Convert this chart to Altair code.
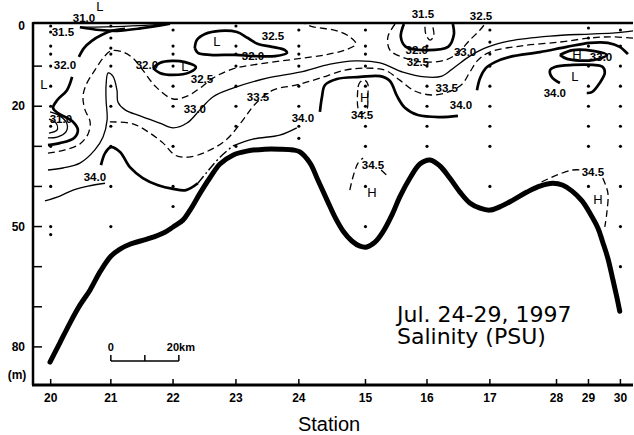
import altair as alt
import pandas as pd

# ---------------- data ----------------
station_names = ["20", "21", "22", "23", "24", "15", "16", "17", "28", "29", "30"]
station_km = [0.0, 17.7, 36.0, 54.5, 73.0, 92.6, 110.7, 129.2, 148.8, 158.2, 167.6]

# sampling depths (m) at each station
depths_20 = [0, 1.5, 5, 7, 10, 15, 20, 25, 30, 40, 50, 52]
depths_21 = [0, 3, 5.5, 7, 10, 15, 20, 25, 30, 40, 50]
depths_22 = [1, 5, 7, 10, 15, 20, 30, 40, 45]
depths_23 = [0, 5, 7, 10, 15, 20, 25, 30]
depths_24 = [1, 5, 7, 10, 15, 20, 25, 28]
depths_15 = [1, 5, 7, 10, 15, 20, 25, 30, 40, 50]
depths_16 = [5, 6, 10, 15, 20, 25, 30]
depths_17 = [1, 4, 7, 10, 15, 20, 25, 30, 40]
depths_29 = [0.5, 3, 5, 10, 15, 20, 25, 30, 40]
depths_30 = [1, 5, 10, 15, 20, 25, 30, 40, 50, 60]

depth_ticks = [10, 20, 30, 40, 50, 60, 70, 80]
depth_labels = [0, 20, 50, 80]

# bottom topography (km, m)
bottom_km = [-0.2, 2.7, 5.7, 8.6, 11.6, 14.5, 17.7, 20.4, 23.3, 29.2, 33.6, 36.0, 38.9, 41.0, 44.0,
             46.8, 49.8, 53.6, 57.7, 63.0, 67.4, 71.3, 73.3, 76.3, 78.6, 81.3, 83.6, 86.0, 88.6,
             91.0, 93.0, 95.4, 97.7, 100.4, 102.7, 105.7, 108.6, 111.6, 114.5, 117.4, 120.4,
             123.3, 126.3, 129.2, 132.1, 136.0, 140.1, 143.9, 147.7, 150.7, 153.3, 156.3, 158.6,
             161.0, 162.4, 163.9, 165.4, 166.6, 167.4]
bottom_m = [83.8, 79.0, 74.0, 69.6, 65.8, 61.3, 57.4, 55.6, 54.4, 52.9, 51.4, 50.1, 48.4, 45.9, 41.6,
            37.9, 34.4, 32.2, 31.2, 30.7, 30.7, 30.9, 31.4, 34.2, 38.4, 43.4, 47.6, 51.1, 53.6,
            54.9, 55.1, 53.9, 51.4, 47.1, 42.6, 37.9, 34.4, 33.4, 34.9, 37.9, 41.4,
            44.1, 45.4, 45.9, 45.1, 43.4, 41.4, 39.9, 39.2, 39.7, 41.1, 43.6, 46.6,
            50.4, 53.9, 57.9, 63.3, 67.8, 71.1]

# isohalines (km, m)
c310_sliver = [(8.6, 0.3), (14.5, 1.0), (19.5, 1.2), (26.3, 0.6), (35.1, -0.6)]
c310_sliver_top = [(8.6, 0.3), (16.0, 0.2), (26.0, -0.1), (35.1, -0.6)]
c315_left = [(8.3, 7.7), (9.8, 5.5), (12.1, 3.7), (15.1, 2.2), (18.0, 1.2), (21.9, 0.7)]
c320_st20 = [(6.3, 12.7), (4.8, 16.0), (1.9, 18.5), (0.7, 20.4), (2.1, 21.7), (6.3, 23.7),
             (8.0, 25.9), (6.9, 27.9), (2.7, 29.2), (-0.8, 29.7)]
c315_st20 = [(-0.2, 21.4), (2.7, 22.4), (4.8, 24.4), (4.5, 26.4), (1.9, 27.7), (-0.8, 27.9)]
c310_st20 = [(-0.5, 23.2), (1.6, 24.2), (1.9, 25.9), (-0.5, 26.7)]
c320_st22 = [(30.1, 10.5), (32.1, 9.2), (35.7, 8.7), (39.5, 9.0), (42.7, 10.2), (41.0, 11.5),
             (36.0, 12.2), (32.1, 11.7), (30.1, 10.5)]
c320_st23 = [(42.4, 5.5), (43.0, 3.5), (45.4, 2.0), (49.8, 1.2), (54.8, 1.5), (58.0, 3.0), (61.0, 4.5),
             (65.1, 5.2), (68.9, 6.0), (69.5, 6.7), (66.0, 7.5), (60.1, 7.5), (54.2, 7.2),
             (46.9, 7.2), (43.3, 6.7), (42.4, 5.5)]
c340_st21 = [(14.8, 34.7), (16.0, 31.7), (17.7, 30.2), (20.4, 31.4), (23.3, 35.2), (27.1, 37.9),
             (31.6, 39.7), (36.0, 40.6), (39.8, 40.9), (43.3, 39.2)]
c340_slope = [(43.3, 39.2), (46.0, 36.4), (49.8, 32.7), (53.6, 29.9)]
c340_st24 = [(53.6, 29.9), (59.5, 28.2), (67.4, 27.2), (72.4, 25.4)]
c340_left = [(-1.7, 43.6), (2.7, 42.4), (6.6, 40.9), (11.0, 39.9), (16.0, 39.2)]
c340_st15 = [(79.2, 21.4), (79.8, 17.7), (80.7, 14.7), (84.2, 13.2), (91.0, 12.7), (96.9, 12.5),
             (99.8, 13.7), (101.9, 17.5), (104.2, 20.4), (108.0, 22.2), (114.5, 22.7), (119.8, 22.4)]
c320_st16 = [(103.9, -0.5), (103.0, 2.7), (104.5, 5.2), (110.1, 6.0), (116.9, 5.2), (118.6, 2.2),
             (118.3, -0.5)]
c315_st16 = [(110.1, 0.2), (110.4, 2.2), (111.6, 3.5), (112.7, 2.5), (112.4, 0.2)]
c325_st16 = [(101.3, -0.5), (99.2, 2.7), (99.8, 6.0), (104.2, 8.0), (110.1, 9.0), (116.0, 8.5),
             (119.8, 6.7), (123.3, 3.5), (126.3, 1.0), (127.7, -0.5)]
c325_long = [(-0.8, 31.7), (4.2, 30.9), (8.6, 29.4), (11.0, 26.9), (11.6, 23.9), (10.1, 20.9),
             (9.5, 17.7), (10.4, 14.7), (13.0, 11.0), (15.7, 7.7), (17.7, 6.2), (21.3, 6.5),
             (24.2, 8.0), (27.1, 11.0), (31.0, 15.2), (36.0, 18.2), (40.1, 17.5), (43.9, 15.5),
             (47.7, 13.0), (53.6, 10.7), (63.6, 9.2), (72.4, 8.2), (80.7, 7.2), (86.6, 6.0),
             (89.8, 4.5), (88.0, 2.7), (84.2, 1.2), (77.2, 0.2), (74.8, -0.5)]
c330_long = [(-0.8, 35.9), (3.6, 35.4), (8.6, 34.2), (13.0, 30.9), (15.4, 27.7), (16.6, 23.4),
             (16.3, 18.5), (16.3, 14.7), (16.9, 11.7), (18.3, 12.5), (19.5, 16.0), (19.8, 19.0),
             (21.9, 20.9), (26.3, 22.4), (32.1, 24.2), (36.0, 25.4), (40.1, 24.2), (43.9, 20.9),
             (47.7, 17.7), (53.6, 15.5), (63.6, 13.0), (73.3, 11.5), (82.2, 9.5), (89.5, 8.7),
             (96.9, 9.2), (103.6, 11.5), (110.1, 12.7), (115.1, 12.5), (118.9, 10.2), (123.3, 7.5),
             (127.7, 5.5), (135.1, 3.7), (146.9, 2.5), (158.6, 2.0), (166.0, 1.7), (171.3, 1.2)]
c335_long = [(17.4, 23.9), (24.2, 24.4), (29.2, 26.7), (33.1, 29.2), (36.6, 32.2), (40.4, 32.7),
             (45.7, 31.4), (51.6, 28.4), (56.6, 23.4), (60.1, 19.5), (65.4, 16.0), (72.4, 14.7),
             (79.2, 13.0), (86.6, 11.0), (92.4, 10.5), (98.3, 11.0), (102.7, 13.5), (107.1, 16.2),
             (112.1, 17.2), (116.8, 16.5), (121.0, 14.5), (123.3, 11.5), (125.7, 8.5), (129.2, 6.5),
             (138.1, 5.0), (149.8, 4.0), (158.6, 3.0), (164.5, 2.7), (171.3, 3.0)]
c340_right = [(125.4, 16.0), (126.3, 13.0), (128.0, 10.5), (130.7, 9.0), (135.1, 7.7), (143.9, 6.5),
              (151.8, 5.2), (158.6, 4.2), (163.9, 4.2), (167.4, 5.2), (169.8, 7.0)]
c340_st29 = [(149.8, 14.2), (147.4, 12.7), (146.9, 11.0), (148.3, 10.2), (153.6, 9.7), (159.5, 9.7),
             (162.4, 10.2), (163.0, 11.7), (161.5, 14.2), (159.2, 16.5), (157.7, 16.7)]
c330_st29 = [(149.8, 7.2), (153.6, 6.0), (159.5, 6.2), (163.6, 7.2), (159.5, 8.5), (151.9, 8.2),
             (149.8, 7.2)]
c345_st15a = [(90.4, 15.2), (91.0, 14.0), (92.4, 13.5), (93.3, 14.5), (93.3, 17.2), (93.0, 20.9),
              (91.6, 21.9), (90.4, 20.4), (90.4, 15.2)]
c345_st15b = [(88.0, 40.9), (88.9, 37.7), (90.4, 34.2), (91.9, 32.9)]
c345_st15c = [(97.2, 35.9), (99.5, 37.7)]
c345_st29a = [(144.4, 38.9), (148.8, 37.2), (153.6, 35.9), (156.3, 35.9)]
c345_st29b = [(162.4, 37.9), (163.9, 41.6), (163.6, 46.6), (163.0, 50.1)]

contours = [
    ("thick", c310_sliver), ("thin", c310_sliver_top), ("thick", c315_left), ("thick", c320_st20),
    ("thin", c315_st20), ("thin", c310_st20), ("thick", c320_st22), ("thick", c320_st23),
    ("thick", c340_st21), ("dashdot", c340_slope), ("thin", c340_st24), ("thin", c340_left),
    ("thick", c340_st15), ("thick", c320_st16), ("dash", c315_st16), ("dash", c325_st16),
    ("dash", c325_long), ("thin", c330_long), ("dash", c335_long), ("thick", c340_right),
    ("thick", c340_st29), ("thick", c330_st29), ("dash", c345_st15a), ("dash", c345_st15b),
    ("dash", c345_st15c), ("dash", c345_st29a), ("dash", c345_st29b),
]

# contour labels (text, km, m)
label_text = ["31.0", "31.5", "32.0", "31.0", "32.0", "32.5", "32.0", "32.5", "33.0", "33.5",
              "34.0", "34.0", "34.5", "31.5", "32.5", "32.0", "32.5", "33.0", "33.5", "34.0",
              "33.0", "34.0", "34.5", "34.5"]
label_km = [9.8, 3.6, 4.2, 3.0, 28.3, 65.4, 59.5, 44.5, 42.4, 61.0,
            74.2, 13.0, 91.6, 109.5, 126.6, 107.7, 108.0, 121.9, 116.5, 120.7,
            161.9, 148.3, 94.8, 159.5]
label_m = [-1.7, 1.7, 10.0, 23.4, 10.0, 2.7, 7.7, 13.5, 20.9, 18.0,
           23.2, 37.9, 22.4, -2.7, -2.2, 6.2, 9.2, 6.7, 15.7, 20.0,
           8.0, 17.0, 34.9, 36.7]

# high / low markers (text, km, m)
hl_text = ["L", "L", "L", "L", "H", "H", "L", "H", "H"]
hl_km = [14.5, -2.0, 39.5, 48.9, 92.4, 154.8, 154.2, 94.5, 161.0]
hl_m = [-4.7, 14.7, 10.2, 4.0, 18.0, 7.2, 12.7, 41.6, 43.4]

# 20 km scale bar
scale_ticks_km = [17.7, 27.7, 37.7]
scale_bar_m = 83.5
scale_tick_top_m = 82.0
scale_text = ["0", "20km"]
scale_text_km = [17.7, 38.3]
scale_text_m = [80.3, 80.3]

title_lines = ["Jul. 24-29, 1997", "Salinity (PSU)"]

# ---------------- tables ----------------
dot_lists = [depths_20, depths_21, depths_22, depths_23, depths_24, depths_15, depths_16,
             depths_17, None, depths_29, depths_30]
dots = pd.DataFrame([{"km": k, "m": d} for k, dl in zip(station_km, dot_lists) if dl
                     for d in dl])
bottom = pd.DataFrame({"km": bottom_km, "m": bottom_m, "o": range(len(bottom_km))})
rows = []
for i, (style, pts) in enumerate(contours):
    for j, (k, d) in enumerate(pts):
        rows.append({"id": i, "o": j, "km": k, "m": d, "style": style})
cont = pd.DataFrame(rows)
labels = pd.DataFrame({"t": label_text, "km": label_km, "m": label_m})
hl = pd.DataFrame({"hl": hl_text, "km": hl_km, "m": hl_m})
stations = pd.DataFrame({"name": station_names, "km": station_km})
ytick = pd.DataFrame({"m": depth_ticks})
ylab = pd.DataFrame({"m": depth_labels, "t": [str(v) for v in depth_labels]})
sbar_pts = pd.DataFrame({"km": scale_ticks_km, "m": scale_bar_m, "m2": scale_tick_top_m})
sbar_line = pd.DataFrame({"km": [scale_ticks_km[0]], "km2": [scale_ticks_km[-1]], "m": [scale_bar_m]})
stext = pd.DataFrame({"t": scale_text, "km": scale_text_km, "m": scale_text_m})
one = pd.DataFrame({"k": [0]})

W, H = 600, 362
XS = alt.Scale(domain=[-5.2, 171.3], nice=False, zero=False)
YS = alt.Scale(domain=[-0.75, 89.5], reverse=True, nice=False, zero=False)
X = alt.X("km:Q", scale=XS, axis=None)
Y = alt.Y("m:Q", scale=YS, axis=None)
FONT = "Liberation Sans"

def clines(style, **kw):
    return (alt.Chart(cont).transform_filter(alt.datum.style == style)
            .mark_line(color="black", interpolate="catmull-rom", **kw)
            .encode(x=X, y=Y, detail="id:N", order="o:Q"))

def note(text, x, y, **kw):
    return (alt.Chart(one).mark_text(text=text, fill="black", color="black", **kw)
            .encode(x=alt.value(x), y=alt.value(y)))

layers = [
    clines("thick", strokeWidth=2.7),
    clines("thin", strokeWidth=1.3),
    clines("dash", strokeWidth=1.3, strokeDash=[7, 4]),
    clines("dashdot", strokeWidth=1.4, strokeDash=[9, 3, 2, 3]),
    alt.Chart(bottom).mark_line(color="black", strokeWidth=5, interpolate="catmull-rom",
                                strokeCap="round").encode(x=X, y=Y, order="o:Q"),
    alt.Chart(dots).mark_circle(color="black", fill="black", size=10, opacity=1).encode(x=X, y=Y),
    alt.Chart(labels).mark_text(font=FONT, fontSize=11.5, fontWeight="bold", fill="black")
        .encode(x=X, y=Y, text="t:N"),
    alt.Chart(hl).mark_text(font=FONT, fontSize=13, fill="black")
        .encode(x=X, y=Y, text="hl:N"),
    # frame
    alt.Chart(ytick).mark_rule(color="black", strokeWidth=1.5)
        .encode(y=Y, x=alt.value(0), x2=alt.value(9)),
    alt.Chart(stations).mark_rule(color="black", strokeWidth=1.5)
        .encode(x=X, y=alt.value(H), y2=alt.value(H - 6)),
    alt.Chart(one).mark_rule(color="black", strokeWidth=2.5)
        .encode(x=alt.value(0), x2=alt.value(W), y=alt.value(0)),
    alt.Chart(one).mark_rule(color="black", strokeWidth=3)
        .encode(x=alt.value(-1), x2=alt.value(W), y=alt.value(H)),
    alt.Chart(one).mark_rule(color="black", strokeWidth=2.5)
        .encode(x=alt.value(0), y=alt.value(-1), y2=alt.value(H)),
    alt.Chart(ylab).mark_text(font=FONT, fontSize=12, fontWeight="bold", align="right", fill="black")
        .encode(y=Y, x=alt.value(-8), text="t:N"),
    alt.Chart(stations).mark_text(font=FONT, fontSize=12, fontWeight="bold", fill="black")
        .encode(x=X, y=alt.value(H + 13), text="name:N"),
    note("(m)", -16, H - 10, font=FONT, fontSize=12, fontWeight="bold"),
    note("Station", 296, H + 40, font=FONT, fontSize=20),
    note(title_lines, 364, 299, font="DejaVu Sans", fontSize=22, align="left",
         baseline="alphabetic", lineHeight=22),
    # scale bar
    alt.Chart(sbar_line).mark_rule(color="black", strokeWidth=1.5)
        .encode(x=X, x2="km2:Q", y=Y),
    alt.Chart(sbar_pts).mark_rule(color="black", strokeWidth=1.5).encode(x=X, y=Y, y2="m2:Q"),
    alt.Chart(stext).mark_text(font=FONT, fontSize=11, fontWeight="bold", fill="black")
        .encode(x=X, y=Y, text="t:N"),
]

chart = alt.layer(*layers).properties(
    width=W, height=H, autosize=alt.AutoSizeParams(type="none"),
    padding={"left": 33, "top": 23, "right": 1, "bottom": 50},
    background="white",
).configure_view(stroke=None)

chart.save("out.html", embed_options={"renderer": "svg", "actions": False})
